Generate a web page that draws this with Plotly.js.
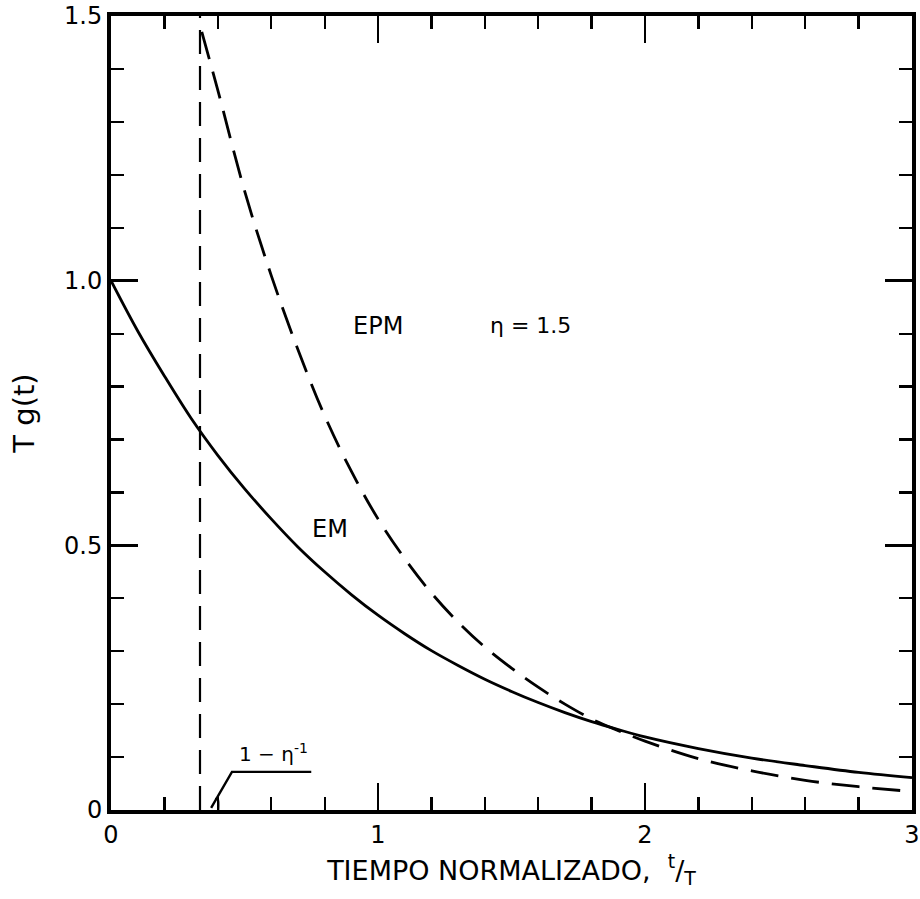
<!DOCTYPE html>
<html>
<head>
<meta charset="utf-8">
<script src="https://cdn.plot.ly/plotly-3.0.1.min.js"></script>
<style>
  html, body { margin: 0; padding: 0; background: #fff; }
  #chart { width: 920px; height: 899px; }
</style>
</head>
<body>
<div id="chart"></div>
<script>
// Transit-time distributions g(t) for the exponential model (EM)
// and the exponential-piston-flow model (EPM), eta = 1.5.
const eta = 1.5;

// EM curve
const emT = [0, 0.1, 0.2, 0.3, 0.4, 0.5, 0.6, 0.7, 0.8, 0.9, 1.0, 1.1, 1.2, 1.3, 1.4, 1.5, 1.6, 1.7, 1.8, 1.9, 2.0, 2.2, 2.4, 2.6, 2.8, 3.0];
const emG = [1.0, 0.905, 0.82, 0.74, 0.67, 0.607, 0.55, 0.497, 0.45, 0.407, 0.368, 0.333, 0.301, 0.273, 0.247, 0.224, 0.203, 0.184, 0.167, 0.152, 0.138, 0.116, 0.098, 0.084, 0.071, 0.061];

// EPM curve (starts at t/T = 1 - 1/eta)
const epmT = [0.34, 0.4, 0.5, 0.6, 0.7, 0.8, 0.9, 1.0, 1.1, 1.2, 1.3, 1.4, 1.5, 1.6, 1.7, 1.8, 1.9, 2.0, 2.2, 2.4, 2.6, 2.8, 3.0];
const epmG = [1.47, 1.36, 1.17, 1.01, 0.87, 0.745, 0.64, 0.55, 0.475, 0.41, 0.355, 0.308, 0.268, 0.232, 0.200, 0.172, 0.150, 0.130, 0.097, 0.074, 0.056, 0.044, 0.035];

// labelled (long) ticks
const xMajorVals = [0, 1, 2, 3];
const xMajorText = ['0', '1', '2', '3'];
const yMajorVals = [0, 0.5, 1.0, 1.5];
const yMajorText = ['0', '0.5', '1.0', '1.5'];
// short ticks
const xMinorVals = [0.2, 0.4, 0.6, 0.8, 1.2, 1.4, 1.6, 1.8, 2.2, 2.4, 2.6, 2.8];
const yMinorVals = [0.1, 0.2, 0.3, 0.4, 0.6, 0.7, 0.8, 0.9, 1.1, 1.2, 1.3, 1.4];

const t0 = 1 - 1 / eta;   // piston-flow delay, 1 - eta^-1
const font = 'DejaVu Sans, Liberation Sans, sans-serif';

const traces = [
  {
    x: emT, y: emG, type: 'scatter', mode: 'lines', name: 'EM',
    line: { color: '#000', width: 2.8, shape: 'spline', smoothing: 1 },
    hoverinfo: 'skip'
  },
  {
    x: epmT, y: epmG, type: 'scatter', mode: 'lines', name: 'EPM',
    line: { color: '#000', width: 2.8, shape: 'spline', smoothing: 1, dash: '28px,13px' },
    hoverinfo: 'skip'
  },
  {
    x: [t0, t0], y: [0, 1.5], type: 'scatter', mode: 'lines', name: 't0',
    xaxis: 'x2', yaxis: 'y2',
    line: { color: '#000', width: 2.2, dash: '24px,12px' },
    hoverinfo: 'skip'
  }
];

const frame = { showgrid: false, zeroline: false, showline: true, linecolor: '#000', linewidth: 4, mirror: 'allticks', ticks: 'inside', tickcolor: '#000', tickmode: 'array' };

const layout = {
  width: 920, height: 899,
  margin: { l: 111, r: 8, t: 16, b: 89 },
  paper_bgcolor: '#fff', plot_bgcolor: '#fff',
  showlegend: false,
  font: { family: font, color: '#000', size: 22 },
  // labelled axes with long ticks
  xaxis: Object.assign({}, frame, {
    range: [0, 3], ticklen: 27, tickwidth: 2.4,
    tickvals: xMajorVals, ticktext: xMajorText,
    tickfont: { family: font, size: 24, color: '#000' },
    title: { text: 'TIEMPO NORMALIZADO,  <sup>t</sup>/<sub>T</sub>', font: { family: font, size: 27, color: '#000' }, standoff: 14 }
  }),
  yaxis: Object.assign({}, frame, {
    range: [0, 1.5], ticklen: 27, tickwidth: 2.4,
    tickvals: yMajorVals, ticktext: yMajorText,
    tickfont: { family: font, size: 24, color: '#000' },
    title: { text: 'T g(t)', font: { family: font, size: 29, color: '#000' }, standoff: 22 }
  }),
  // overlaid axes carrying the short ticks
  xaxis2: Object.assign({}, frame, {
    range: [0, 3], overlaying: 'x', anchor: 'y2', side: 'bottom',
    ticklen: 13, tickwidth: 2.2, tickvals: xMinorVals, showticklabels: false
  }),
  yaxis2: Object.assign({}, frame, {
    range: [0, 1.5], overlaying: 'y', anchor: 'x2', side: 'left',
    ticklen: 13, tickwidth: 2.2, tickvals: yMinorVals, showticklabels: false
  }),
  annotations: [
    { x: 1.0, y: 0.915, xref: 'x', yref: 'y', text: 'EPM', showarrow: false, font: { family: font, size: 24, color: '#000' } },
    { x: 1.57, y: 0.915, xref: 'x', yref: 'y', text: 'η = 1.5', showarrow: false, font: { family: font, size: 22, color: '#000' } },
    { x: 0.82, y: 0.53, xref: 'x', yref: 'y', text: 'EM', showarrow: false, font: { family: font, size: 24, color: '#000' } },
    { x: 0.61, y: 0.107, xref: 'x', yref: 'y', text: '1 − η<sup>-1</sup>', showarrow: false, font: { family: font, size: 20, color: '#000' } }
  ],
  shapes: [
    // leader from the delay mark to its label
    { type: 'path', xref: 'x', yref: 'y', path: 'M 0.375,0.004 L 0.453,0.072 L 0.75,0.072', line: { color: '#000', width: 2.4 } },
    { type: 'path', xref: 'x', yref: 'y', path: 'M 0.392,0.02 Q 0.405,0.03 0.402,0.0', line: { color: '#000', width: 2 } }
  ]
};

Plotly.newPlot('chart', traces, layout, { displayModeBar: false, staticPlot: true });
</script>
</body>
</html>
